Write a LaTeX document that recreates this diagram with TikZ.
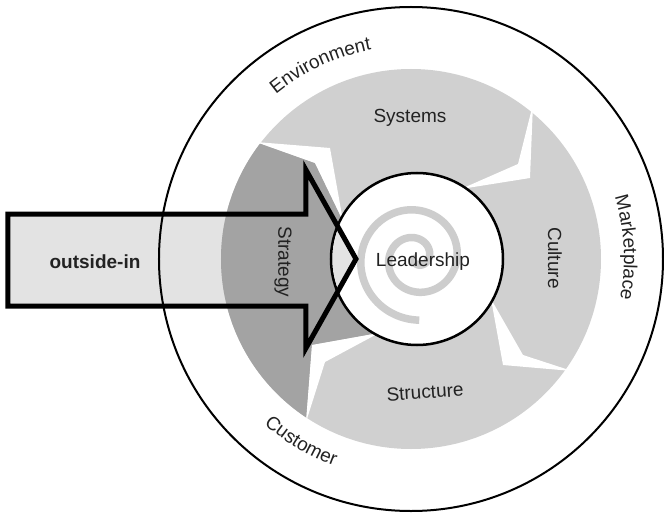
\documentclass[tikz,border=0pt]{standalone}
\usepackage{fontspec}
\setmainfont{Liberation Sans}
\usetikzlibrary{decorations.text}
\definecolor{lightg}{HTML}{D0D0D0}
\definecolor{darkg}{HTML}{A3A3A3}
\definecolor{spiralg}{HTML}{CDCDCD}
\definecolor{arrowg}{HTML}{E3E3E3}
\definecolor{txt}{HTML}{222222}
\tikzset{
  lbl/.style={font=\fontsize{19}{22}\selectfont, text=txt, inner sep=0pt},
  gapw/.style={fill=white},
  curvedlbl/.style={decorate, decoration={text along path, text align=center, text={|\fontsize{19}{22}\selectfont\color{txt}|#1}}}
}
\begin{document}
\begin{tikzpicture}[x=1pt,y=1pt]
\useasboundingbox (-411,-258) rectangle (253,259);
% outer ring
\draw[line width=2pt] (0,0) circle[radius=252];
% pinwheel disk
\fill[lightg] (0,0) circle[radius=190];
\begin{scope}
  \clip (0,0) circle[radius=190];
  \fill[darkg] (-232,176) -- (-155,117) -- (-96,96) -- (-68,38) -- (0,0) -- (-32,-74) -- (-99,-86) -- (-105,-163) -- (-158,-245) -- (-300,-245) -- (-300,176) -- cycle;
\end{scope}
% white gaps
\fill[gapw] (-155,117) -- (-81,111) -- (-68,38) -- (-96,96) -- cycle;
\fill[gapw] (122,155) -- (119,81) -- (50,70) -- (107,95) -- cycle;
\fill[gapw] (80,-40) -- (92,-106) -- (161,-112) -- (112,-96) -- cycle;
\fill[gapw] (-32,-74) -- (-99,-86) -- (-105,-163) -- (-86,-103) -- cycle;
% inner circle
\draw[line width=2.5pt, fill=white] (6,0) circle[radius=86];
% spiral
\draw[spiralg, line width=7.5pt] plot[domain=0:800, samples=240, smooth, variable=\t] ({5+0.0778*\t*cos(193+\t)}, {1+0.0778*\t*sin(193+\t)});
% arrow
\begin{scope}[blend mode=darken]
\fill[arrowg] (-403,45) -- (-105,45) -- (-105,89) -- (-55,0) -- (-105,-89) -- (-105,-47) -- (-403,-47) -- cycle;
\end{scope}
\draw[black, line width=5pt, miter limit=10]
  (-403,45) -- (-105,45) -- (-105,89) -- (-55,0) -- (-105,-89) -- (-105,-47) -- (-403,-47) -- cycle;
% labels
\node[lbl] (sys) at (-1,141) {Systems};
\node[lbl, rotate=-90] (cul) at (144,1) {Culture};
\node[lbl, rotate=4] (struc) at (14,-133) {Structure};
\node[lbl, rotate=-90] (strat) at (-128,-3) {Strategy};
\node[lbl] (lead) at (12,-3) {Leadership};
\node[lbl, font=\fontsize{19}{22}\selectfont\bfseries] (oi) at (-316,-3) {outside-in};
% curved labels
\path[curvedlbl=Environment] (150:213) arc[start angle=150, end angle=80, radius=213];
\path[curvedlbl=Marketplace] (40:213) arc[start angle=40, end angle=-34, radius=213];
\path[curvedlbl=Customer] (200:221) arc[start angle=200, end angle=278, radius=221];
\end{tikzpicture}
\end{document}
